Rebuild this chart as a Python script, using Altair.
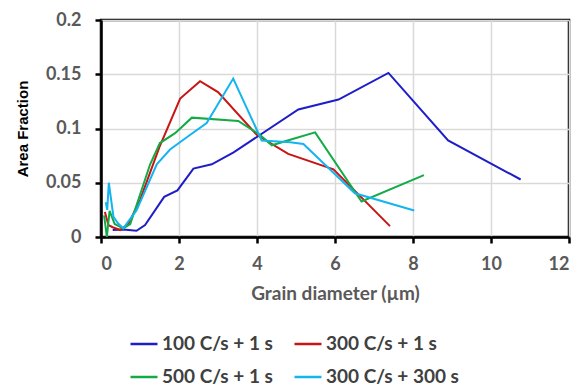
import altair as alt
import pandas as pd

series_names = ["100 C/s + 1 s", "300 C/s + 1 s", "500 C/s + 1 s", "300 C/s + 300 s"]
series_colors = ["#1E1EC8", "#C81414", "#14AA46", "#14B4F0"]

x_100 = [0.3, 0.57, 0.91, 1.13, 1.62, 1.96, 2.37, 2.84, 3.4, 5.06, 6.09, 7.37, 8.9, 10.76]
y_100 = [0.0064, 0.007, 0.0057, 0.011, 0.037, 0.043, 0.063, 0.067, 0.078, 0.1176, 0.1267, 0.1512, 0.089, 0.053]

x_300 = [0.1, 0.19, 0.3, 0.49, 0.7, 1.0, 1.5, 2.03, 2.54, 3.0, 4.0, 4.8, 5.96, 7.41]
y_300 = [0.023, 0.011, 0.009, 0.0064, 0.012, 0.034, 0.083, 0.1276, 0.1436, 0.1336, 0.094, 0.0766, 0.0624, 0.01]

x_500 = [0.08, 0.15, 0.22, 0.35, 0.57, 0.75, 1.26, 1.51, 1.9, 2.33, 3.52, 4.08, 4.38, 4.85, 5.49, 6.68, 8.28]
y_500 = [0.02, 0.0, 0.024, 0.012, 0.008, 0.012, 0.067, 0.0866, 0.0957, 0.11, 0.107, 0.094, 0.0845, 0.0897, 0.0964, 0.0327, 0.057]

x_300b = [0.12, 0.16, 0.2, 0.32, 0.44, 0.57, 0.91, 1.43, 1.77, 2.28, 2.71, 3.39, 4.12, 4.85, 5.19, 6.51, 8.03]
y_300b = [0.032, 0.025, 0.05, 0.0185, 0.0124, 0.008, 0.0245, 0.067, 0.0806, 0.094, 0.105, 0.146, 0.089, 0.0873, 0.0857, 0.0403, 0.0245]

rows = []
for name, xs, ys in zip(series_names, [x_100, x_300, x_500, x_300b], [y_100, y_300, y_500, y_300b]):
    for i, (xv, yv) in enumerate(zip(xs, ys)):
        rows.append({"series": name, "x": xv, "y": yv, "order": i})
df = pd.DataFrame(rows)

LABEL_FONT = "Lato"
FS = 18

chart = alt.Chart(df).mark_line(strokeWidth=2).encode(
    x=alt.X("x:Q", scale=alt.Scale(domain=[0, 12], nice=False),
            axis=alt.Axis(values=[0, 2, 4, 6, 8, 10, 12], title="Grain diameter (µm)",
                          labelPadding=12, titlePadding=11)),
    y=alt.Y("y:Q", scale=alt.Scale(domain=[0, 0.2], nice=False),
            axis=alt.Axis(values=[0, 0.05, 0.1, 0.15, 0.2], format="~g", title="Area Fraction",
                          titleFont="Liberation Sans", titleColor="#000000", titleFontSize=15,
                          labelPadding=14, titlePadding=15)),
    color=alt.Color("series:N", scale=alt.Scale(domain=series_names, range=series_colors),
                    legend=alt.Legend(title=None, orient="none", legendX=28, legendY=309,
                                      columns=2, direction="horizontal",
                                      symbolType="stroke", symbolSize=729, symbolStrokeWidth=2.5,
                                      labelFont=LABEL_FONT, labelFontSize=19, labelFontWeight="bold",
                                      labelColor="#404040", labelOffset=3, columnPadding=16,
                                      rowPadding=8, labelLimit=300)),
    order="order:Q",
).properties(
    width=468, height=217,
    background="#ffffff",
    autosize=alt.AutoSizeParams(type="none"),
    padding={"left": 93, "top": 12, "right": 4, "bottom": 155},
).configure_view(
    stroke="#000000", strokeWidth=2.5
).configure_axis(
    domainColor="#000000", domainWidth=2.5,
    tickColor="#000000", tickWidth=2.5, tickSize=6,
    gridColor="#d9d9d9", gridWidth=1.5,
    labelFont=LABEL_FONT, labelFontSize=FS, labelFontWeight="bold", labelColor="#595959",
    titleFont=LABEL_FONT, titleFontSize=19, titleFontWeight="bold", titleColor="#595959",
)

chart.save("out.html", embed_options={"renderer": "svg", "actions": False})
